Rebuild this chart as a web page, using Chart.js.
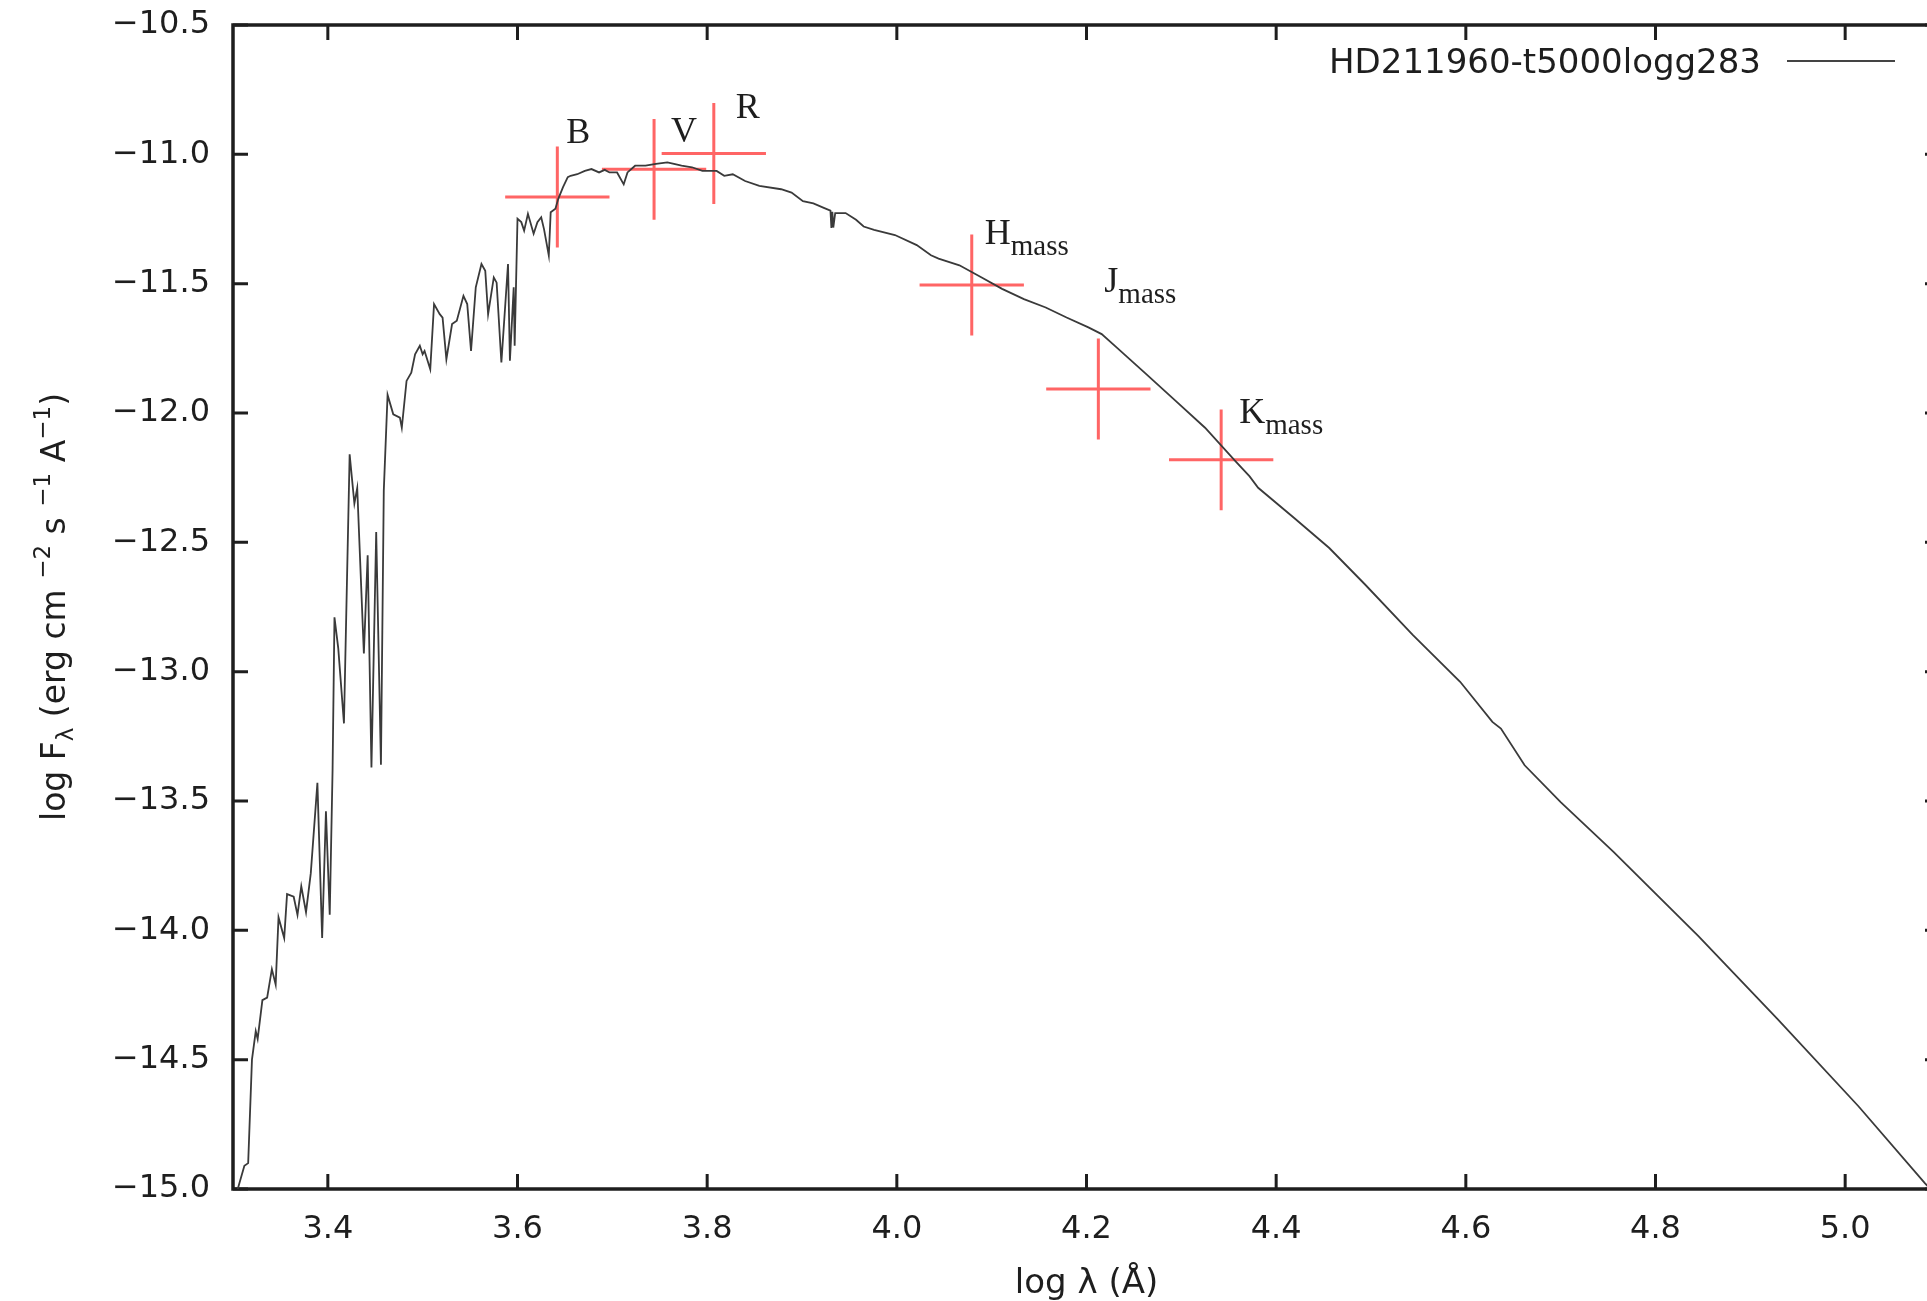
<!DOCTYPE html>
<html>
<head>
<meta charset="utf-8">
<title>HD211960 SED</title>
<script src="https://cdn.jsdelivr.net/npm/chart.js@4.4.1/dist/chart.umd.min.js"></script>
<style>
  html, body { margin: 0; padding: 0; background: #fff; overflow: hidden; }
  #wrap { width: 1960px; height: 1301px; }
</style>
</head>
<body>
<div id="wrap"><canvas id="sed" width="1960" height="1301"></canvas></div>
<script>
// model spectrum (log lambda, log F_lambda)
const specX = [
  3.305, 3.312, 3.316, 3.320, 3.324, 3.326, 3.331, 3.336, 3.341, 3.345,
  3.348, 3.354, 3.357, 3.364, 3.368, 3.372, 3.377, 3.382, 3.389, 3.394,
  3.398, 3.402, 3.405, 3.407, 3.411, 3.417, 3.423, 3.428, 3.431, 3.438,
  3.442, 3.446, 3.451, 3.456, 3.459, 3.463, 3.469, 3.476, 3.478, 3.483,
  3.488, 3.492, 3.497, 3.500, 3.502, 3.508, 3.512, 3.518, 3.521, 3.525,
  3.531, 3.536, 3.543, 3.547, 3.551, 3.556, 3.562, 3.566, 3.569, 3.575,
  3.578, 3.583, 3.590, 3.592, 3.596, 3.597, 3.600, 3.604, 3.607, 3.611,
  3.617, 3.621, 3.625, 3.628, 3.633, 3.635, 3.640, 3.643, 3.648, 3.653,
  3.656, 3.663, 3.671, 3.678, 3.686, 3.692, 3.697, 3.705, 3.712, 3.716,
  3.724, 3.735, 3.746, 3.758, 3.765, 3.773, 3.784, 3.795, 3.810, 3.818,
  3.827, 3.840, 3.855, 3.878, 3.889, 3.901, 3.912, 3.923, 3.930, 3.931,
  3.932, 3.933, 3.935, 3.946, 3.957, 3.965, 3.976, 3.998, 4.021, 4.036,
  4.044, 4.066, 4.089, 4.111, 4.134, 4.157, 4.179, 4.202, 4.216, 4.232,
  4.263, 4.294, 4.325, 4.357, 4.372, 4.381, 4.419, 4.456, 4.494, 4.544,
  4.594, 4.628, 4.637, 4.662, 4.700, 4.756, 4.845, 4.929, 5.014, 5.084,
  5.100
];
const specY = [
  -15.00, -14.91, -14.90, -14.50, -14.39, -14.42, -14.27, -14.26, -14.15, -14.21,
  -13.95, -14.03, -13.86, -13.87, -13.94, -13.83, -13.93, -13.78, -13.43, -14.03,
  -13.54, -13.94, -13.38, -12.79, -12.91, -13.20, -12.16, -12.35, -12.29, -12.93,
  -12.55, -13.37, -12.46, -13.36, -12.30, -11.93, -12.005, -12.018, -12.057, -11.876,
  -11.844, -11.773, -11.740, -11.773, -11.760, -11.831, -11.579, -11.618, -11.631, -11.792,
  -11.656, -11.643, -11.547, -11.579, -11.760, -11.514, -11.424, -11.450, -11.618, -11.476,
  -11.496, -11.805, -11.424, -11.798, -11.514, -11.740, -11.249, -11.262, -11.295, -11.230,
  -11.307, -11.262, -11.243, -11.290, -11.391, -11.224, -11.210, -11.172, -11.127, -11.088,
  -11.083, -11.077, -11.064, -11.057, -11.070, -11.060, -11.070, -11.070, -11.116, -11.070,
  -11.044, -11.044, -11.037, -11.031, -11.037, -11.044, -11.050, -11.064, -11.064, -11.083,
  -11.077, -11.103, -11.122, -11.135, -11.148, -11.181, -11.190, -11.207, -11.218, -11.285,
  -11.222, -11.283, -11.227, -11.227, -11.253, -11.279, -11.292, -11.312, -11.351, -11.390,
  -11.403, -11.429, -11.475, -11.520, -11.560, -11.592, -11.631, -11.669, -11.695, -11.747,
  -11.850, -11.953, -12.057, -12.186, -12.245, -12.289, -12.406, -12.522, -12.664, -12.858,
  -13.039, -13.194, -13.220, -13.362, -13.504, -13.698, -14.021, -14.344, -14.680, -14.977,
  -15.040
];

// photometry with error bars
const bandNames = ['B', 'V', 'R', 'H', 'J', 'K'];
const bandSubs = ['', '', '', 'mass', 'mass', 'mass'];
const photX = [3.642, 3.744, 3.807, 4.079, 4.2125, 4.342];
const photY = [-11.165, -11.058, -10.997, -11.505, -11.907, -12.181];
const photXErr = [0.055, 0.055, 0.055, 0.055, 0.055, 0.055];
const photYErr = [0.195, 0.195, 0.195, 0.195, 0.195, 0.195];

const xTicks = [3.4, 3.6, 3.8, 4.0, 4.2, 4.4, 4.6, 4.8, 5.0];
const yTicks = [-15.0, -14.5, -14.0, -13.5, -13.0, -12.5, -12.0, -11.5, -11.0, -10.5];
const seriesName = 'HD211960-t5000logg283';

const SANS = '"DejaVu Sans", sans-serif';
const SERIF = '"Liberation Serif", "Times New Roman", serif';
const INK = '#1e1e1e';
const RED = 'rgba(255, 50, 50, 0.75)';
const TICK = 15;

// pixel offsets of each band label (left, baseline) from its point
const labelOffsets = [[9, -54], [17, -27], [22, -36], [13, -41], [6, -97], [18, -37]];

const frame = {
  id: 'frame',
  beforeDatasetsDraw(chart) {
    const { ctx, chartArea: a, scales: { x, y } } = chart;
    ctx.save();
    ctx.strokeStyle = INK;
    ctx.lineWidth = 3.5;
    ctx.strokeRect(a.left, a.top, a.right - a.left, a.bottom - a.top);
    ctx.lineWidth = 3;
    ctx.beginPath();
    xTicks.forEach(v => {
      const px = x.getPixelForValue(v);
      ctx.moveTo(px, a.bottom); ctx.lineTo(px, a.bottom - TICK);
      ctx.moveTo(px, a.top); ctx.lineTo(px, a.top + TICK);
    });
    yTicks.forEach(v => {
      const py = y.getPixelForValue(v);
      ctx.moveTo(a.left, py); ctx.lineTo(a.left + TICK, py);
      ctx.moveTo(a.right, py); ctx.lineTo(a.right - TICK, py);
    });
    ctx.stroke();

    // error bars
    ctx.strokeStyle = RED;
    ctx.lineWidth = 3;
    ctx.beginPath();
    photX.forEach((vx, i) => {
      const cx = x.getPixelForValue(vx), cy = y.getPixelForValue(photY[i]);
      ctx.moveTo(x.getPixelForValue(vx - photXErr[i]), cy);
      ctx.lineTo(x.getPixelForValue(vx + photXErr[i]), cy);
      ctx.moveTo(cx, y.getPixelForValue(photY[i] + photYErr[i]));
      ctx.lineTo(cx, y.getPixelForValue(photY[i] - photYErr[i]));
    });
    ctx.stroke();
    ctx.restore();
  }
};

const annotations = {
  id: 'annotations',
  afterDraw(chart) {
    const { ctx, chartArea: a, scales: { x, y } } = chart;
    ctx.save();
    ctx.fillStyle = INK;
    ctx.textBaseline = 'alphabetic';

    // band labels
    bandNames.forEach((name, i) => {
      const lx = x.getPixelForValue(photX[i]) + labelOffsets[i][0];
      const ly = y.getPixelForValue(photY[i]) + labelOffsets[i][1];
      ctx.font = `36px ${SERIF}`;
      ctx.textAlign = 'left';
      ctx.fillText(name, lx, ly);
      if (bandSubs[i]) {
        const w = ctx.measureText(name).width;
        ctx.font = `29px ${SERIF}`;
        ctx.fillText(bandSubs[i], lx + w, ly + 11);
      }
    });

    // key, gnuplot style: text then line sample
    ctx.font = `34px ${SANS}`;
    ctx.textAlign = 'right';
    ctx.fillText(seriesName, 1761, 73);
    ctx.strokeStyle = '#444';
    ctx.lineWidth = 2;
    ctx.beginPath();
    ctx.moveTo(1787, 61); ctx.lineTo(1895, 61);
    ctx.stroke();

    // y title with sub/superscripts
    const big = 33, small = 23;
    const parts = [['log F', 0], ['\u03bb', 1], [' (erg cm ', 0], ['\u22122', 2], [' s ', 0],
                   ['\u22121', 2], [' A', 0], ['\u22121', 2], [')', 0]];
    let total = 0;
    const widths = parts.map(([t, k]) => {
      ctx.font = `${k ? small : big}px ${SANS}`;
      const w = ctx.measureText(t).width;
      total += w;
      return w;
    });
    ctx.translate(65, (a.top + a.bottom) / 2);
    ctx.rotate(-Math.PI / 2);
    ctx.textAlign = 'left';
    let cx = -total / 2;
    parts.forEach(([t, k], i) => {
      ctx.font = `${k ? small : big}px ${SANS}`;
      ctx.fillText(t, cx, k === 1 ? 8 : k === 2 ? -15 : 0);
      cx += widths[i];
    });
    ctx.restore();
  }
};

new Chart(document.getElementById('sed'), {
  type: 'scatter',
  data: {
    datasets: [
      {
        label: seriesName,
        data: specX.map((v, i) => ({ x: v, y: specY[i] })),
        showLine: true,
        borderColor: '#3a3a3a',
        borderWidth: 1.8,
        pointRadius: 0,
        tension: 0
      },
      {
        label: 'photometry',
        data: photX.map((v, i) => ({ x: v, y: photY[i] })),
        pointRadius: 0
      }
    ]
  },
  options: {
    responsive: false,
    animation: false,
    devicePixelRatio: 1,
    layout: { padding: { left: 0, top: 25, right: 20, bottom: 0 } },
    plugins: { legend: { display: false }, tooltip: { enabled: false } },
    scales: {
      x: {
        type: 'linear',
        min: 3.3,
        max: 5.1,
        afterBuildTicks: s => { s.ticks = xTicks.map(v => ({ value: v })); },
        afterFit: s => { s.height = 112; s.paddingLeft = 0; s.paddingRight = 0; },
        grid: { display: false, drawTicks: false },
        border: { display: false },
        ticks: {
          padding: 21,
          color: INK,
          maxRotation: 0,
          font: { family: SANS, size: 32 },
          callback: v => v.toFixed(1)
        },
        title: {
          display: true,
          text: 'log \u03bb (\u00c5)',
          color: INK,
          font: { family: SANS, size: 34, lineHeight: 1.0 },
          padding: { top: 0, bottom: 0 }
        }
      },
      y: {
        type: 'linear',
        min: -15,
        max: -10.5,
        afterBuildTicks: s => { s.ticks = yTicks.map(v => ({ value: v })); },
        afterFit: s => { s.width = 233; s.paddingTop = 0; s.paddingBottom = 0; },
        grid: { display: false, drawTicks: false },
        border: { display: false },
        ticks: {
          padding: 23,
          color: INK,
          font: { family: SANS, size: 32 },
          callback: v => (v < 0 ? '\u2212' : '') + Math.abs(v).toFixed(1)
        }
      }
    }
  },
  plugins: [frame, annotations]
});
</script>
</body>
</html>
